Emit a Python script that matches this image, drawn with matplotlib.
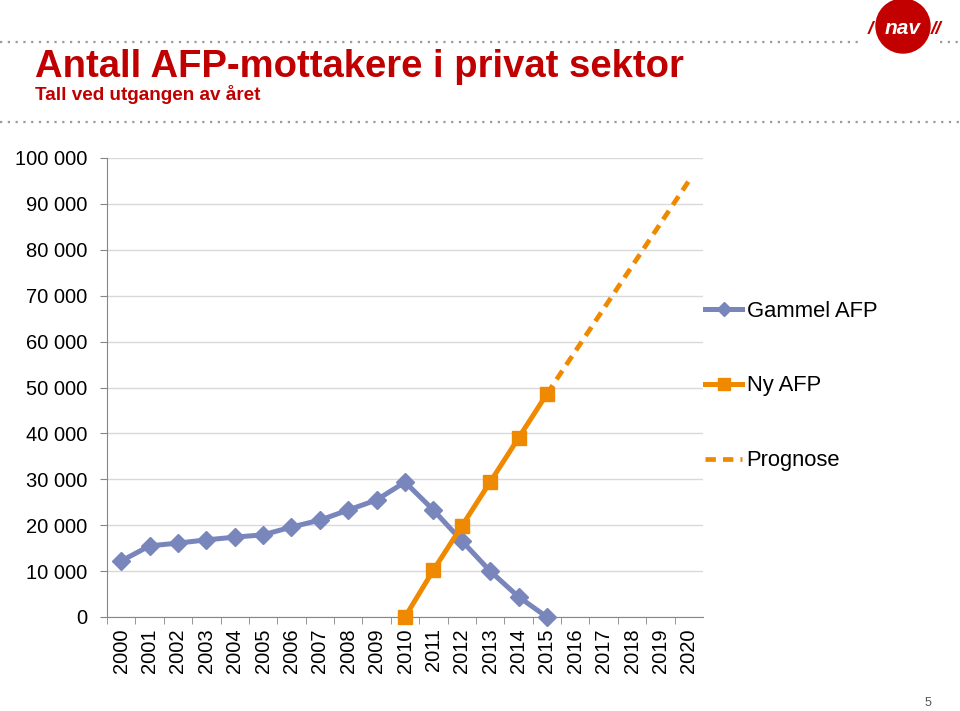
import matplotlib.pyplot as plt
from matplotlib.patches import Circle
from matplotlib.lines import Line2D

plt.rcParams['font.family'] = ['Liberation Sans', 'DejaVu Sans']

# data
years = list(range(2000, 2021))
gammel_years = list(range(2000, 2016))
gammel_afp = [12200, 15500, 16100, 16800, 17400, 17900, 19600, 21100,
              23300, 25500, 29400, 23300, 16600, 10000, 4400, 0]
ny_years = [2010, 2011, 2012, 2013, 2014, 2015]
ny_afp = [0, 10200, 19800, 29400, 39000, 48600]
prognose_years = [2015, 2020]
prognose = [48600, 95000]
y_ticks = list(range(0, 100001, 10000))

blue = "#7986bc"
orange = "#ef8a00"
red = "#c00000"

fig = plt.figure(figsize=(9.6, 7.11), dpi=100)
fig.patch.set_facecolor("white")

ax = fig.add_axes([107 / 960, 94 / 711, 596 / 960, 459 / 711])

ax.plot(gammel_years, gammel_afp, color=blue, linewidth=3.6,
        marker="D", markersize=9, clip_on=False, zorder=3,
        label="Gammel AFP")
ax.plot(ny_years, ny_afp, color=orange, linewidth=3.6,
        marker="s", markersize=10, clip_on=False, zorder=4,
        label="Ny AFP")
ax.plot(prognose_years, prognose, color=orange, linewidth=3.4,
        dashes=(2.2, 1.5), zorder=3, label="Prognose")

ax.set_xlim(1999.5, 2020.5)
ax.set_ylim(0, 100000)
ax.set_yticks(y_ticks)
ax.set_yticklabels([f"{v:,}".replace(",", " ") for v in y_ticks], fontsize=14.5)
ax.set_xticks(years)
ax.set_xticklabels([str(y) for y in years], rotation=90, fontsize=14.5)
ax.set_xticks([y + 0.5 for y in years[:-1]] + [1999.5], minor=True)
ax.tick_params(axis="x", which="major", length=0, pad=8)
ax.tick_params(axis="x", which="minor", length=5, color="#868686")
ax.tick_params(axis="y", length=5, color="#868686", pad=9)

ax.grid(axis="y", color="#d9d9d9", linewidth=1)
ax.set_axisbelow(True)
for side in ["top", "right"]:
    ax.spines[side].set_visible(False)
for side in ["left", "bottom"]:
    ax.spines[side].set_color("#868686")

handles = [
    Line2D([], [], color=blue, linewidth=3.6, marker="D", markersize=7),
    Line2D([], [], color=orange, linewidth=3.6, marker="s", markersize=8),
    Line2D([], [], color=orange, linewidth=3.4, dashes=(2.2, 1.5)),
]
fig.legend(handles, ["Gammel AFP", "Ny AFP", "Prognose"],
           loc="center left", bbox_to_anchor=(705 / 960, 325 / 711),
           frameon=False, fontsize=15.8, handlelength=1.7,
           handletextpad=0.2, labelspacing=2.45, borderpad=0,
           borderaxespad=0)

# header
fig.text(35 / 960, 1 - 67 / 711, "Antall AFP-mottakere i privat sektor",
         color=red, fontsize=27.5, fontweight="bold", va="center",
         family=["Liberation Sans Narrow", "Liberation Sans"])
fig.text(35 / 960, 1 - 95 / 711, "Tall ved utgangen av året",
         color=red, fontsize=13.6, fontweight="bold", va="center",
         family=["Liberation Sans Narrow", "Liberation Sans"])

fig.add_artist(Line2D([0, 862 / 960], [1 - 42 / 711] * 2, color="#9a9a9a",
                      linewidth=1.6, linestyle=(0, (1, 2.5))))
fig.add_artist(Line2D([940 / 960, 1], [1 - 42 / 711] * 2, color="#9a9a9a",
                      linewidth=1.6, linestyle=(0, (1, 2.5))))
fig.add_artist(Line2D([0, 1], [1 - 122 / 711] * 2, color="#9a9a9a",
                      linewidth=1.6, linestyle=(0, (1, 2.5))))

# logo
logo = fig.add_axes([860 / 960, 1 - 62 / 711, 100 / 960, 62 / 711])
logo.set_xlim(0, 100)
logo.set_ylim(0, 62)
logo.set_aspect("equal")
logo.axis("off")
logo.add_patch(Circle((43, 36), 27, color="#c30000"))
logo.text(43, 33, "nav", color="white", fontsize=15, fontweight="bold",
          style="italic", ha="center", va="center")
logo.text(10, 33, "/", color="#c30000", fontsize=14, fontweight="bold",
          style="italic", ha="center", va="center")
logo.text(76, 33, "//", color="#c30000", fontsize=14, fontweight="bold",
          style="italic", ha="center", va="center")

fig.text(928 / 960, 1 - 703 / 711, "5", color="#555555", fontsize=9,
         ha="center", va="center")

fig.savefig("out.png", dpi=100)
